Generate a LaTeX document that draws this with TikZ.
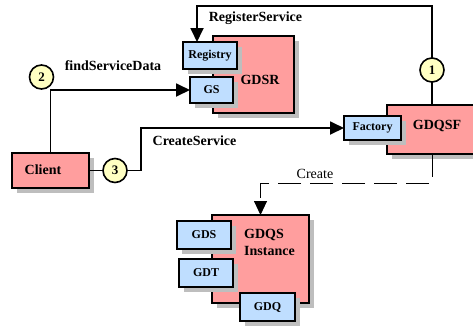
\documentclass[tikz,border=0pt]{standalone}
\usepackage{fontspec}
\setmainfont{Liberation Serif}
\usetikzlibrary{arrows.meta,shadows}
\definecolor{pinkfill}{RGB}{255,158,158}
\definecolor{bluefill}{RGB}{191,222,255}
\definecolor{yellowfill}{RGB}{255,255,194}
\definecolor{shadowgray}{RGB}{190,190,190}
\tikzset{
 boxshadow/.style={drop shadow={shadow xshift=5bp,shadow yshift=-5bp,fill=shadowgray,opacity=1}},
 bigbox/.style={draw,line width=1.6bp,fill=pinkfill,inner sep=0pt,outer sep=0pt,boxshadow},
 smallbox/.style={draw,line width=1.6bp,fill=bluefill,inner sep=0pt,outer sep=0pt,boxshadow,font=\fontsize{12bp}{14bp}\selectfont\bfseries},
 numcircle/.style={circle,draw,line width=1.6bp,fill=yellowfill,minimum size=24bp,inner sep=0pt,outer sep=0pt,font=\fontsize{13bp}{15bp}\selectfont\bfseries},
 biglabel/.style={inner sep=0pt,font=\fontsize{14bp}{17bp}\selectfont\bfseries},
 plainlabel/.style={inner sep=0pt,font=\fontsize{14bp}{17bp}\selectfont},
 conn/.style={line width=1.8bp},
 endtip/.style={-{Triangle[length=14bp,width=13bp]}},
 dashconn/.style={line width=0.9bp,dash pattern=on 23bp off 9bp},
}
\begin{document}
\begin{tikzpicture}[x=1bp,y=-1bp]
\useasboundingbox (0,0) rectangle (473,325);
% GDSR
\node[bigbox,minimum width=81bp,minimum height=77bp] (gdsr) at (253.5,74.5) {};
\node[biglabel] (gdsrlabel) at (260,80) {GDSR};
\node[smallbox,minimum width=54bp,minimum height=27bp] (registry) at (210,55.5) {Registry};
\node[smallbox,minimum width=43bp,minimum height=26bp] (gs) at (211.5,90) {GS};
% GDQSF
\node[bigbox,minimum width=100bp,minimum height=49bp] (gdqsf) at (437,129.5) {};
\node[biglabel] (gdqsflabel) at (437,126) {GDQSF};
\node[smallbox,minimum width=57bp,minimum height=24bp] (factory) at (372.5,128) {Factory};
% Client
\node[bigbox,minimum width=77bp,minimum height=35bp] (client) at (50.5,170.5) {};
\node[biglabel] (clientlabel) at (43,170) {Client};
% GDQS instance
\node[bigbox,minimum width=97bp,minimum height=88bp] (gdqs) at (260.5,259) {};
\node[biglabel,anchor=base west] (gdqslabel) at (244,238) {GDQS};
\node[biglabel,anchor=base west] (instlabel) at (244,255) {Instance};
\node[smallbox,minimum width=54bp,minimum height=28bp] (gds) at (204,235) {GDS};
\node[smallbox,minimum width=54bp,minimum height=28bp] (gdt) at (206,273) {GDT};
\node[smallbox,minimum width=55bp,minimum height=28bp] (gdq) at (267.5,307) {GDQ};
% circles
\node[numcircle] (c1) at (432,70) {1};
\node[numcircle] (c2) at (41.5,77) {2};
\node[numcircle] (c3) at (115,170.5) {3};
% helper coordinates
\coordinate (rtop) at (0,6);
\coordinate (csbend) at (141,128);
\coordinate (crbend) at (0,183);
% connectors
\draw[conn] (gdqsf.north -| c1) -- (c1.south);
\draw[conn,endtip] (c1.north) -- (c1 |- rtop) -| ([xshift=-13bp]registry.north);
\draw[conn,endtip] (client.north) |- (gs.west);
\draw[conn] (client.east) -- (c3.west);
\draw[conn,endtip] (c3.east) -| (csbend) -- (factory.west);
\draw[dashconn,endtip] (gdqsf.south -| c1) -- (c1 |- crbend) -| (gdqs.north);
% labels
\node[biglabel] (lblreg) at (255.5,18) {RegisterService};
\node[biglabel] (lblfind) at (113,66) {findServiceData};
\node[biglabel] (lblcs) at (194.5,141) {CreateService};
\node[plainlabel] (lblcr) at (315,174) {Create};
\end{tikzpicture}
\end{document}
